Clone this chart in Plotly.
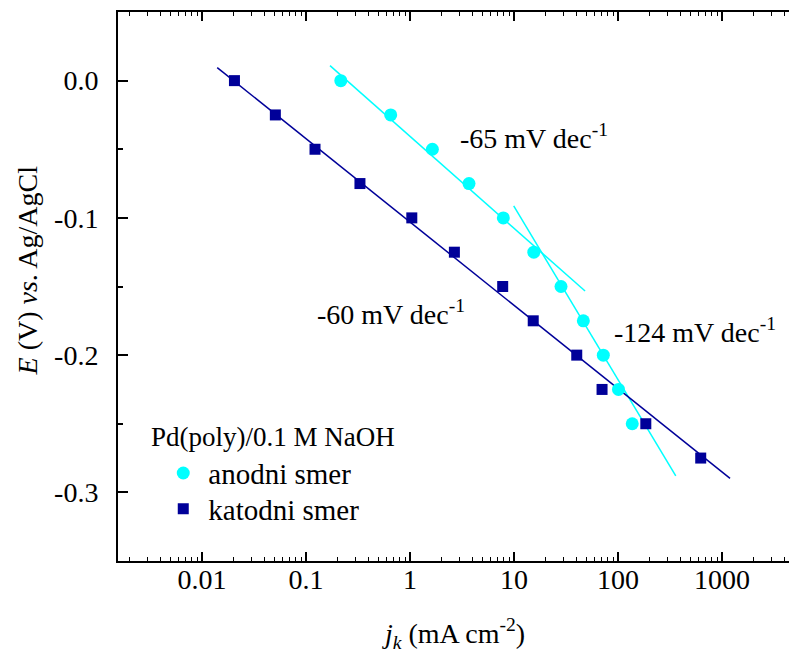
import numpy as np
import plotly.graph_objects as go

# Data
anod_j = [0.216, 0.652, 1.64, 3.69, 7.89, 15.5, 28.3, 46.4, 72.2, 101, 137]
anod_E = [0.0, -0.025, -0.05, -0.075, -0.1, -0.125, -0.15, -0.175, -0.2, -0.225, -0.25]
katod_j = [0.0205, 0.0507, 0.122, 0.330, 1.04, 2.67, 7.78, 15.3, 40.1, 70.2, 185, 624]
katod_E = [0.0, -0.025, -0.05, -0.075, -0.1, -0.125, -0.15, -0.175, -0.2, -0.225, -0.25, -0.275]

# Tafel fit line endpoints
fit60_j = [0.0140, 1194]
fit60_E = [0.0095, -0.2898]
fit65_j = [0.170, 48.2]
fit65_E = [0.0109, -0.1533]
fit124_j = [9.93, 359]
fit124_E = [-0.0913, -0.2879]

xtick_vals = [0.01, 0.1, 1, 10, 100, 1000]
xtick_text = ["0.01", "0.1", "1", "10", "100", "1000"]
ytick_vals = [0.0, -0.1, -0.2, -0.3]
ytick_text = ["0.0", "-0.1", "-0.2", "-0.3"]

CYAN = "#00FFFF"
NAVY = "#000099"
FONT = "Liberation Serif"
FS = 28

fig = go.Figure()
fig.add_trace(go.Scatter(x=fit65_j, y=fit65_E, mode="lines", line=dict(color=CYAN, width=1.5), showlegend=False, hoverinfo="skip"))
fig.add_trace(go.Scatter(x=fit124_j, y=fit124_E, mode="lines", line=dict(color=CYAN, width=1.5), showlegend=False, hoverinfo="skip"))
fig.add_trace(go.Scatter(x=fit60_j, y=fit60_E, mode="lines", line=dict(color=NAVY, width=1.5), showlegend=False, hoverinfo="skip"))
fig.add_trace(go.Scatter(x=anod_j, y=anod_E, mode="markers", name="anodni smer", legend="legend",
                         marker=dict(symbol="circle", size=13, color=CYAN)))
fig.add_trace(go.Scatter(x=katod_j, y=katod_E, mode="markers", name="katodni smer", legend="legend2",
                         marker=dict(symbol="square", size=11, color=NAVY)))

leg_common = dict(xanchor="left", yanchor="middle", bgcolor="rgba(0,0,0,0)",
                  font=dict(size=29, family=FONT), itemsizing="trace", itemwidth=40)
fig.update_layout(
    width=789, height=651,
    margin=dict(l=118, r=0, t=12, b=90),
    paper_bgcolor="white", plot_bgcolor="white",
    font=dict(family=FONT, size=FS, color="black"),
    showlegend=True,
    legend=dict(x=0.06, y=0.160, **leg_common),
    legend2=dict(x=0.06, y=0.0947, **leg_common),
)
fig.update_xaxes(
    type="log", range=[-2.808, 3.644],
    tickvals=xtick_vals, ticktext=xtick_text,
    ticks="inside", ticklen=9, tickwidth=1.5, tickcolor="black",
    minor=dict(ticks="inside", ticklen=4, tickwidth=1.2, tickcolor="black", dtick="D1", showgrid=False),
    showline=True, linewidth=2, linecolor="black", mirror="ticks",
    showgrid=False, zeroline=False, ticklabelstandoff=-8,
    tickfont=dict(size=FS),
)
fig.update_yaxes(
    range=[-0.35, 0.05],
    tickvals=ytick_vals, ticktext=ytick_text,
    ticks="inside", ticklen=10, tickwidth=1.5, tickcolor="black",
    minor=dict(ticks="inside", ticklen=5, tickwidth=1.5, tickcolor="black", dtick=0.05, showgrid=False),
    showline=True, linewidth=2, linecolor="black",
    showgrid=False, zeroline=False, ticklabelstandoff=12,
    tickfont=dict(size=FS),
)

fig.add_annotation(text="<i>j</i><sub><i>k</i></sub> (mA cm<sup>-2</sup>)", xref="paper", yref="paper",
                   x=0.5, y=-0.093, xanchor="center", yanchor="top", showarrow=False,
                   font=dict(size=FS, family=FONT))
fig.add_annotation(text="<i>E</i> (V) <i>vs</i>. Ag/AgCl", xref="paper", yref="paper",
                   x=-0.135, y=0.53, xanchor="center", yanchor="middle", textangle=-90, showarrow=False,
                   font=dict(size=FS, family=FONT))
fig.add_annotation(text="Pd(poly)/0.1 M NaOH", xref="paper", yref="paper",
                   x=0.046, y=0.225, xanchor="left", yanchor="middle", showarrow=False,
                   font=dict(size=27, family=FONT))
fig.add_annotation(text="-65 mV dec<sup>-1</sup>", x=0.4615, y=-0.041, xanchor="left", yanchor="middle",
                   showarrow=False, font=dict(size=FS, family=FONT))
fig.add_annotation(text="-60 mV dec<sup>-1</sup>", x=-0.913, y=-0.1693, xanchor="left", yanchor="middle",
                   showarrow=False, font=dict(size=FS, family=FONT))
fig.add_annotation(text="-124 mV dec<sup>-1</sup>", x=1.939, y=-0.1817, xanchor="left", yanchor="middle",
                   showarrow=False, font=dict(size=FS, family=FONT))

fig.write_html("out.html", config={"displayModeBar": False},
               post_script="document.body.style.margin='0';document.body.style.overflow='hidden';")
